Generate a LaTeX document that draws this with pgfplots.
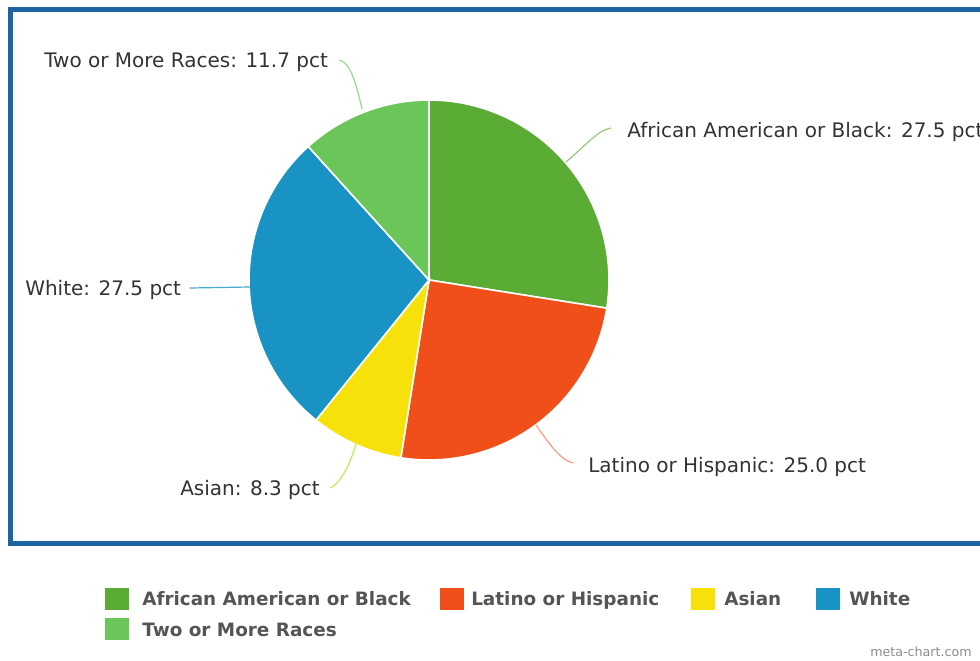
\documentclass[border=0pt]{standalone}
\usepackage{pgfplots}
\usepackage{pgfplotstable}
\pgfplotsset{compat=1.18}
\usepackage{fontspec}
\setmainfont{DejaVu Sans}
\definecolor{cAA}{HTML}{5BAC34}
\definecolor{cLH}{HTML}{F04F1A}
\definecolor{cAS}{HTML}{F7E10B}
\definecolor{cWH}{HTML}{1893C4}
\definecolor{cTM}{HTML}{6BC65A}
\definecolor{frame}{HTML}{1B65A3}
\definecolor{txt}{HTML}{333333}
\definecolor{legtxt}{HTML}{555555}

\pgfplotstableread{
label value
AfricanAmericanOrBlack 27.5
LatinoOrHispanic 25.0
Asian 8.3
White 27.5
TwoOrMoreRaces 11.7
}\piedata

\begin{document}%
\begin{tikzpicture}
\pgfplotstablegetelem{0}{value}\of\piedata\let\vA\pgfplotsretval
\pgfplotstablegetelem{1}{value}\of\piedata\let\vB\pgfplotsretval
\pgfplotstablegetelem{2}{value}\of\piedata\let\vC\pgfplotsretval
\pgfplotstablegetelem{3}{value}\of\piedata\let\vD\pgfplotsretval
\pgfplotstablegetelem{4}{value}\of\piedata\let\vE\pgfplotsretval
\pgfmathsetmacro{\tZ}{90}
\pgfmathsetmacro{\tA}{\tZ-3.6*\vA}
\pgfmathsetmacro{\tB}{\tA-3.6*\vB}
\pgfmathsetmacro{\tC}{\tB-3.6*\vC}
\pgfmathsetmacro{\tD}{\tC-3.6*\vD}
\pgfmathsetmacro{\tE}{\tD-3.6*\vE}
\begin{axis}[
  scale only axis, width=735pt, height=495pt,
  xmin=0, xmax=980, ymin=0, ymax=660, y dir=reverse,
  axis lines=none, clip=false,
]
% frame
\draw[frame, line width=3.75pt] (axis cs:10,10) rectangle (axis cs:1010,543);
% pie slices
\addplot[fill=cAA, draw=white, line width=1.2pt, domain=\tA:\tZ, samples=80, variable=\t]
  ({429+180*cos(\t)},{280-180*sin(\t)}) -- (axis cs:429,280) -- cycle;
\addplot[fill=cLH, draw=white, line width=1.2pt, domain=\tB:\tA, samples=80, variable=\t]
  ({429+180*cos(\t)},{280-180*sin(\t)}) -- (axis cs:429,280) -- cycle;
\addplot[fill=cAS, draw=white, line width=1.2pt, domain=\tC:\tB, samples=40, variable=\t]
  ({429+180*cos(\t)},{280-180*sin(\t)}) -- (axis cs:429,280) -- cycle;
\addplot[fill=cWH, draw=white, line width=1.2pt, domain=\tD:\tC, samples=80, variable=\t]
  ({429+180*cos(\t)},{280-180*sin(\t)}) -- (axis cs:429,280) -- cycle;
\addplot[fill=cTM, draw=white, line width=1.2pt, domain=\tE:\tD, samples=40, variable=\t]
  ({429+180*cos(\t)},{280-180*sin(\t)}) -- (axis cs:429,280) -- cycle;
% leader lines
\draw[cTM!70!white, line width=0.9pt] (axis cs:339,60) .. controls (axis cs:350,62) and (axis cs:356,82) .. (axis cs:362,109);
\draw[cAA!65!white, line width=0.9pt] (axis cs:566,162) .. controls (axis cs:585,146) and (axis cs:598,130) .. (axis cs:611,128);
\draw[cWH!80!white, line width=0.9pt] (axis cs:190,288) -- (axis cs:250,287);
\draw[cAS!60!green!70!white, line width=0.9pt] (axis cs:330,488) .. controls (axis cs:340,484) and (axis cs:350,465) .. (axis cs:356,444);
\draw[cLH!55!white, line width=0.9pt] (axis cs:536,425) .. controls (axis cs:548,442) and (axis cs:560,460) .. (axis cs:573,463);
% labels
\tikzset{lab/.style={anchor=base west, inner sep=0pt, text=txt, font=\fontsize{15pt}{18pt}\selectfont}}
\node[lab] at (axis cs:44,68) {Two or More Races: 11.7 pct};
\node[lab] at (axis cs:627,137) {African American or Black: 27.5 pct};
\node[lab] at (axis cs:25,295) {White: 27.5 pct};
\node[lab] at (axis cs:180,495) {Asian: 8.3 pct};
\node[lab] at (axis cs:588,472) {Latino or Hispanic: 25.0 pct};
% legend
\tikzset{leg/.style={anchor=base west, inner sep=0pt, text=legtxt, font=\fontsize{13.8pt}{16pt}\selectfont\bfseries}}
\fill[cAA] (axis cs:105,588) rectangle (axis cs:129,610);
\node[leg] at (axis cs:142,605) {African American or Black};
\fill[cLH] (axis cs:440,588) rectangle (axis cs:464,610);
\node[leg] at (axis cs:471,605) {Latino or Hispanic};
\fill[cAS] (axis cs:691,588) rectangle (axis cs:715,610);
\node[leg] at (axis cs:724,605) {Asian};
\fill[cWH] (axis cs:816,588) rectangle (axis cs:840,610);
\node[leg] at (axis cs:849,605) {White};
\fill[cTM] (axis cs:105,618) rectangle (axis cs:129,640);
\node[leg] at (axis cs:142,636) {Two or More Races};
\node[anchor=base west, inner sep=0pt, text=black!45, font=\fontsize{9.5pt}{11pt}\selectfont] at (axis cs:870,656) {meta-chart.com};
\coordinate (BL) at (axis cs:0,660);
\coordinate (TR) at (axis cs:980,0);
\end{axis}
\pgfresetboundingbox
\useasboundingbox (BL) rectangle (TR);
\end{tikzpicture}%
\end{document}
